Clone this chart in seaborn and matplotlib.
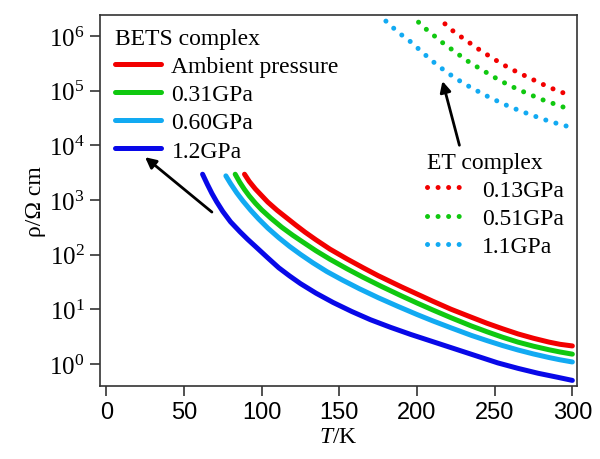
import numpy as np
import pandas as pd
import matplotlib
matplotlib.use("Agg")
import matplotlib.pyplot as plt
import seaborn as sns

# BETS complex, solid curves: T in K, log10(rho / Ohm cm)
t_amb = [89, 92, 96, 100, 104, 110, 116, 122, 128, 135, 144, 155, 165, 175,
         190, 200, 210, 222, 235, 245, 255, 265, 275, 285, 292, 300]
lg_amb = [3.47, 3.34, 3.20, 3.08, 2.96, 2.81, 2.675, 2.54, 2.41, 2.27, 2.10,
          1.92, 1.765, 1.615, 1.41, 1.28, 1.15, 1.00, 0.855, 0.745, 0.645,
          0.55, 0.47, 0.40, 0.36, 0.33]
t_031 = [83, 86, 89, 92, 96, 100, 106, 113, 120, 126, 135, 144, 155, 165,
         177, 190, 200, 210, 222, 235, 245, 255, 265, 275, 285, 292, 300]
lg_031 = [3.47, 3.32, 3.19, 3.075, 2.94, 2.82, 2.665, 2.50, 2.355, 2.24,
          2.07, 1.915, 1.74, 1.59, 1.42, 1.245, 1.115, 0.99, 0.845, 0.695,
          0.59, 0.49, 0.40, 0.325, 0.26, 0.22, 0.18]
t_060 = [77, 80, 84, 88, 93, 98, 104, 111, 118, 125, 133, 142, 152, 163,
         175, 188, 200, 210, 222, 235, 245, 255, 265, 275, 285, 292, 300]
lg_060 = [3.44, 3.30, 3.13, 2.98, 2.81, 2.655, 2.485, 2.31, 2.15, 2.005,
          1.85, 1.69, 1.535, 1.375, 1.213, 1.05, 0.905, 0.79, 0.66, 0.523,
          0.428, 0.338, 0.256, 0.183, 0.118, 0.077, 0.037]
t_12 = [62, 65, 68, 71, 75, 80, 86, 91, 96, 104, 111, 118, 125, 135, 146,
        158, 170, 183, 196, 210, 224, 238, 252, 265, 278, 290, 300]
lg_12 = [3.47, 3.29, 3.12, 2.97, 2.79, 2.60, 2.42, 2.28, 2.15, 1.94, 1.76,
         1.61, 1.47, 1.295, 1.125, 0.96, 0.81, 0.67, 0.54, 0.41, 0.28, 0.15,
         0.02, -0.08, -0.17, -0.24, -0.30]

# ET complex, dotted curves
t_et013 = [218, 224, 230, 241, 255, 263, 271, 285, 293, 300]
lg_et013 = [6.22, 6.07, 5.95, 5.73, 5.48, 5.36, 5.25, 5.06, 4.97, 4.90]
t_et051 = [201, 206, 212, 218, 223.5, 232, 240, 250, 259, 270, 280, 290, 300]
lg_et051 = [6.25, 6.12, 5.98, 5.84, 5.73, 5.55, 5.41, 5.24, 5.10, 4.96, 4.84,
            4.74, 4.64]
t_et11 = [180, 185, 190, 196, 205, 212, 218, 225, 235, 247, 260, 272, 285, 300]
lg_et11 = [6.27, 6.14, 6.02, 5.89, 5.66, 5.49, 5.36, 5.22, 5.05, 4.87, 4.70,
           4.57, 4.44, 4.32]

bets = [("Ambient pressure", t_amb, lg_amb, "#f20000"),
        ("0.31GPa", t_031, lg_031, "#10c810"),
        ("0.60GPa", t_060, lg_060, "#12aaf2"),
        ("1.2GPa", t_12, lg_12, "#0808e8")]
et = [("0.13GPa", t_et013, lg_et013, "#f20000"),
      ("0.51GPa", t_et051, lg_et051, "#10c810"),
      ("1.1GPa", t_et11, lg_et11, "#12aaf2")]

sns.set_theme(style="ticks")
plt.rcParams["font.family"] = ["Liberation Serif", "DejaVu Serif"]
plt.rcParams["mathtext.fontset"] = "custom"
plt.rcParams["mathtext.rm"] = "Liberation Sans"
plt.rcParams["mathtext.it"] = "Liberation Serif:italic"
plt.rcParams["text.color"] = "black"
plt.rcParams["axes.labelcolor"] = "black"

fig = plt.figure(figsize=(6, 4.6), dpi=100)
ax = fig.add_axes([0.1667, 0.159, 0.795, 0.806])

bets_lines = []
for name, t, lg, c in bets:
    df = pd.DataFrame({"T": t, "rho": 10 ** np.array(lg)})
    sns.lineplot(data=df, x="T", y="rho", color=c, lw=3.6, ax=ax,
                 solid_capstyle="round", solid_joinstyle="round", sort=False)
    bets_lines.append(ax.get_lines()[-1])

et_lines = []
for name, t, lg, c in et:
    df = pd.DataFrame({"T": t, "rho": 10 ** np.array(lg)})
    sns.lineplot(data=df, x="T", y="rho", color=c, lw=3.6, ax=ax,
                 linestyle=(0, (0.01, 2.1)), dash_capstyle="round", sort=False)
    et_lines.append(ax.get_lines()[-1])

ax.set_yscale("log")
ax.set_xlim(-4, 303)
ax.set_ylim(10 ** -0.4, 10 ** 6.38)
ax.set_xticks([0, 50, 100, 150, 200, 250, 300])
ax.set_yticks([1e0, 1e1, 1e2, 1e3, 1e4, 1e5, 1e6])
ax.yaxis.set_minor_locator(matplotlib.ticker.NullLocator())
ax.set_yticklabels([r"$\mathregular{10^{%d}}$" % k for k in range(7)])
for lab in ax.get_xticklabels():
    lab.set_fontfamily("Liberation Sans")
    lab.set_fontsize(17)
for lab in ax.get_yticklabels():
    lab.set_fontsize(18)
ax.tick_params(axis="both", direction="out", length=7, width=1.2,
               color="#333333", labelcolor="black", pad=4)
for s in ax.spines.values():
    s.set_linewidth(1.2)
    s.set_color("#333333")

ax.set_xlabel(r"$\mathit{T}$/K", fontsize=17, labelpad=2)
ax.set_ylabel("ρ/Ω cm", fontsize=17, labelpad=2)

leg1 = ax.legend(bets_lines, [b[0] for b in bets], title="BETS complex",
                 loc="upper left", bbox_to_anchor=(0.031, 0.965),
                 frameon=False, fontsize=17, title_fontsize=17,
                 alignment="left", handlelength=1.95, handletextpad=0.45,
                 labelspacing=0.28, borderpad=0, borderaxespad=0,
                 labelcolor="black")
ax.add_artist(leg1)
ax.legend(et_lines, [e[0] for e in et], title="ET complex",
          loc="upper left", bbox_to_anchor=(0.685, 0.632),
          frameon=False, fontsize=17, title_fontsize=17,
          alignment="left", handlelength=1.7, handletextpad=0.65,
          labelspacing=0.28, borderpad=0, borderaxespad=0,
          labelcolor="black")

arrow = dict(arrowstyle="-|>", color="black", lw=2, mutation_scale=16,
             shrinkA=0, shrinkB=0)
ax.annotate("", xy=(25, 6050), xytext=(68, 600), arrowprops=arrow)
ax.annotate("", xy=(216.4, 1.49e5), xytext=(227.3, 1.0e4), arrowprops=arrow)

fig.savefig("out.png", dpi=100)
